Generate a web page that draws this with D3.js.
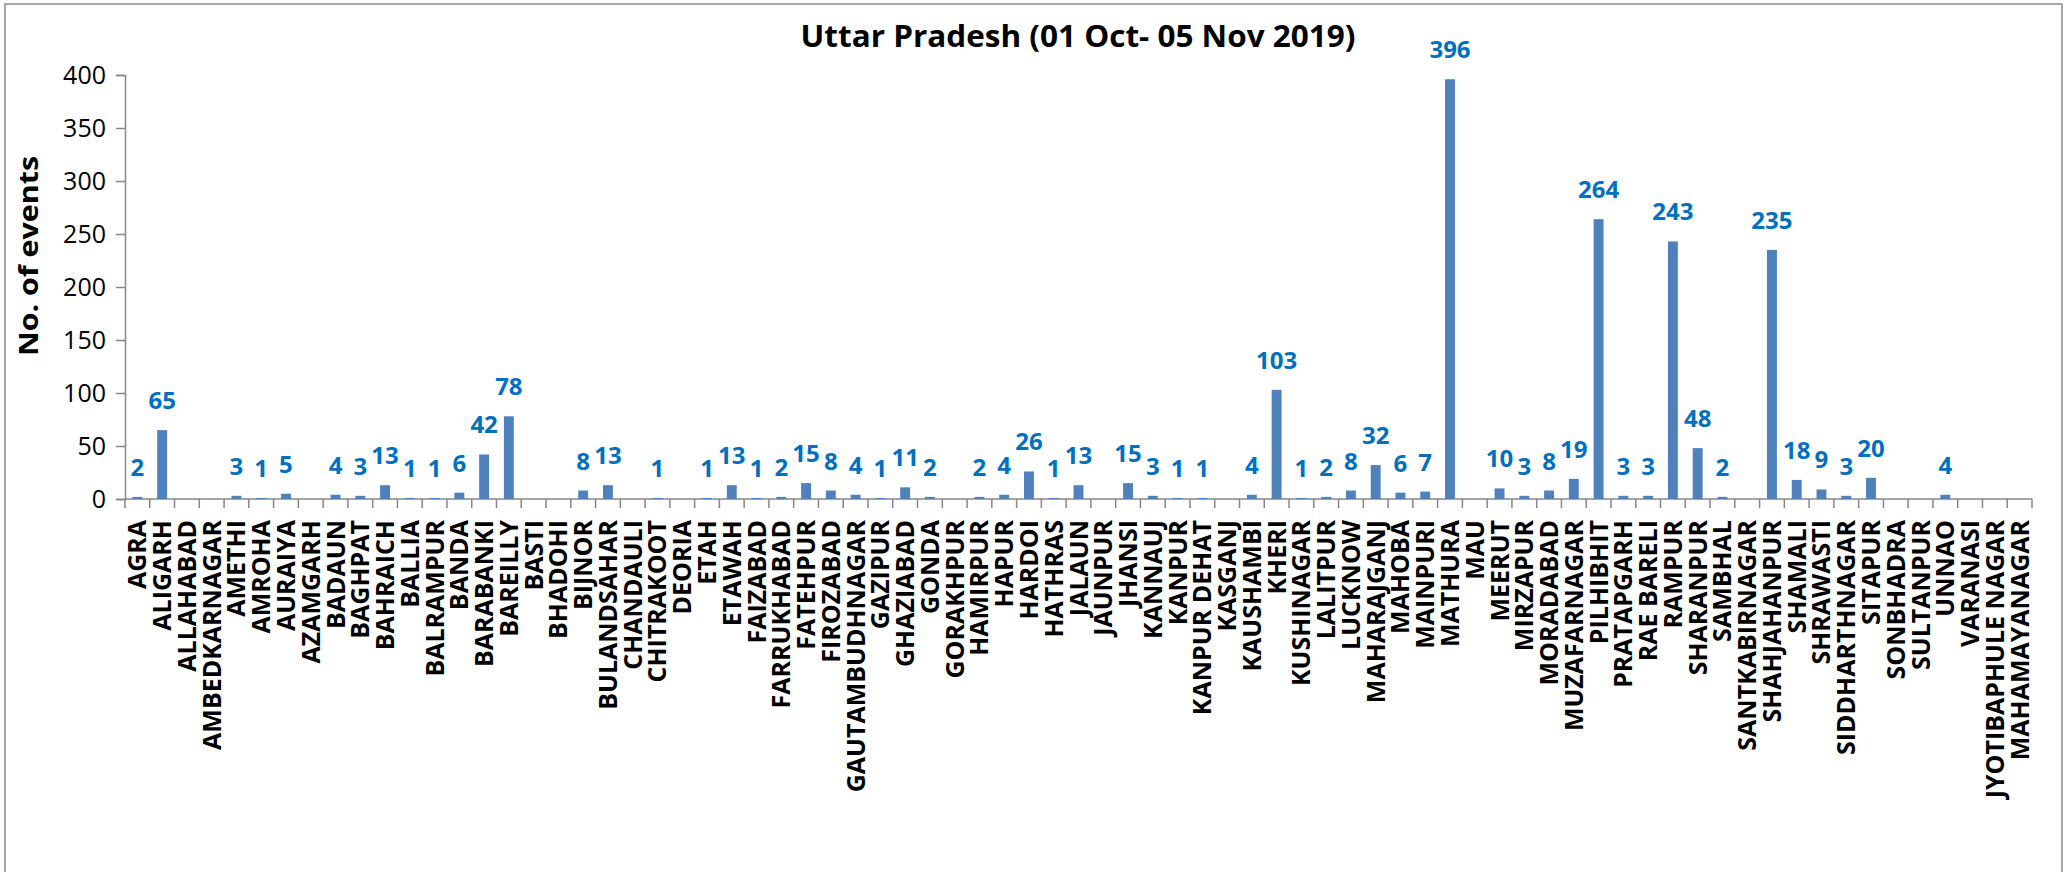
<html>
<head>
<meta charset="utf-8">
<script src="https://cdn.jsdelivr.net/npm/d3@7"></script>
<style>
  body { margin: 0; background: #fff; }
  svg text { font-family: "Open Sans", sans-serif; }
</style>
</head>
<body>
<svg id="chart" width="2065" height="872"></svg>
<script>
// districts, in chart order
var districts = ["AGRA","ALIGARH","ALLAHABAD","AMBEDKARNAGAR","AMETHI","AMROHA","AURAIYA","AZAMGARH",
  "BADAUN","BAGHPAT","BAHRAICH","BALLIA","BALRAMPUR","BANDA","BARABANKI","BAREILLY","BASTI","BHADOHI",
  "BIJNOR","BULANDSAHAR","CHANDAULI","CHITRAKOOT","DEORIA","ETAH","ETAWAH","FAIZABAD","FARRUKHABAD",
  "FATEHPUR","FIROZABAD","GAUTAMBUDHNAGAR","GAZIPUR","GHAZIABAD","GONDA","GORAKHPUR","HAMIRPUR","HAPUR",
  "HARDOI","HATHRAS","JALAUN","JAUNPUR","JHANSI","KANNAUJ","KANPUR","KANPUR DEHAT","KASGANJ","KAUSHAMBI",
  "KHERI","KUSHINAGAR","LALITPUR","LUCKNOW","MAHARAJGANJ","MAHOBA","MAINPURI","MATHURA","MAU","MEERUT",
  "MIRZAPUR","MORADABAD","MUZAFARNAGAR","PILHIBHIT","PRATAPGARH","RAE BARELI","RAMPUR","SHARANPUR",
  "SAMBHAL","SANTKABIRNAGAR","SHAHJAHANPUR","SHAMALI","SHRAWASTI","SIDDHARTHNAGAR","SITAPUR","SONBHADRA",
  "SULTANPUR","UNNAO","VARANASI","JYOTIBAPHULE NAGAR","MAHAMAYANAGAR"];

// number of events (null = no bar / no label)
var events = [2,65,null,null,3,1,5,null,
  4,3,13,1,1,6,42,78,null,null,
  8,13,null,1,null,1,13,1,2,
  15,8,4,1,11,2,null,2,4,
  26,1,13,null,15,3,1,1,null,4,
  103,1,2,8,32,6,7,396,null,10,
  3,8,19,264,3,3,243,48,
  2,null,235,18,9,3,20,null,
  null,4,null,null,null];

var yTicks = [0,50,100,150,200,250,300,350,400];

var svg = d3.select("#chart");
var plotLeft = 125, plotRight = 2032, plotTop = 75, plotBottom = 499;

// outer frame (bottom edge is cut off in the original)
svg.append("rect")
  .attr("x", 5).attr("y", 4)
  .attr("width", 2057).attr("height", 900)
  .attr("fill", "none")
  .attr("stroke", "#898989")
  .attr("stroke-width", 1.5);

var x = d3.scaleBand().domain(districts).range([plotLeft, plotRight]).paddingInner(0.6).paddingOuter(0.3);
var y = d3.scaleLinear().domain([0, 400]).range([plotBottom, plotTop]);

// y axis
var yAxis = svg.append("g")
  .attr("transform", "translate(" + plotLeft + ",0)")
  .call(d3.axisLeft(y).tickValues(yTicks).tickSize(9).tickPadding(10));
yAxis.select(".domain").attr("stroke", "#868686").attr("stroke-width", 1.5);
yAxis.selectAll(".tick line").attr("stroke", "#868686").attr("stroke-width", 1.5);
yAxis.selectAll(".tick text")
  .attr("font-size", 25)
  .attr("fill", "#000")
  .style("font-family", "'Open Sans', sans-serif");

// x axis line with ticks at category boundaries
var step = (plotRight - plotLeft) / districts.length;
svg.append("line")
  .attr("x1", plotLeft).attr("x2", plotRight)
  .attr("y1", plotBottom).attr("y2", plotBottom)
  .attr("stroke", "#868686").attr("stroke-width", 1.5);
svg.append("g").selectAll("line")
  .data(d3.range(districts.length + 1))
  .join("line")
  .attr("x1", function(i) { return plotLeft + i * step; })
  .attr("x2", function(i) { return plotLeft + i * step; })
  .attr("y1", plotBottom).attr("y2", plotBottom + 9)
  .attr("stroke", "#868686").attr("stroke-width", 1.5);

// bars
svg.append("g").selectAll("rect")
  .data(districts)
  .join("rect")
  .attr("x", function(d) { return x(d); })
  .attr("width", x.bandwidth())
  .attr("y", function(d, i) { return y(events[i] || 0); })
  .attr("height", function(d, i) { return plotBottom - y(events[i] || 0); })
  .attr("fill", "#4F81BD");

// value labels
svg.append("g").selectAll("text")
  .data(districts.filter(function(d, i) { return events[i] != null; }))
  .join("text")
  .attr("x", function(d) { return x(d) + x.bandwidth() / 2; })
  .attr("y", function(d) { return y(events[districts.indexOf(d)]) - 21; })
  .attr("text-anchor", "middle")
  .attr("font-size", 24)
  .attr("font-weight", "bold")
  .attr("fill", "#0070C0")
  .text(function(d) { return events[districts.indexOf(d)]; });

// category labels, rotated
svg.append("g").selectAll("text")
  .data(districts)
  .join("text")
  .attr("transform", function(d) {
    return "translate(" + (x(d) + x.bandwidth() / 2) + "," + 520 + ") rotate(-90)";
  })
  .attr("text-anchor", "end")
  .attr("dy", "0.36em")
  .attr("font-size", 25)
  .attr("font-weight", "bold")
  .attr("fill", "#000")
  .text(function(d) { return d; });

// title
svg.append("text")
  .attr("x", 1078).attr("y", 47)
  .attr("text-anchor", "middle")
  .attr("font-size", 30)
  .attr("font-weight", "bold")
  .attr("textLength", 555)
  .attr("lengthAdjust", "spacingAndGlyphs")
  .text("Uttar Pradesh (01 Oct- 05 Nov 2019)");

// y axis title
svg.append("text")
  .attr("transform", "translate(38,256) rotate(-90)")
  .attr("text-anchor", "middle")
  .attr("font-size", 27)
  .attr("font-weight", "bold")
  .attr("textLength", 200)
  .attr("lengthAdjust", "spacingAndGlyphs")
  .text("No. of events");
</script>
</body>
</html>
